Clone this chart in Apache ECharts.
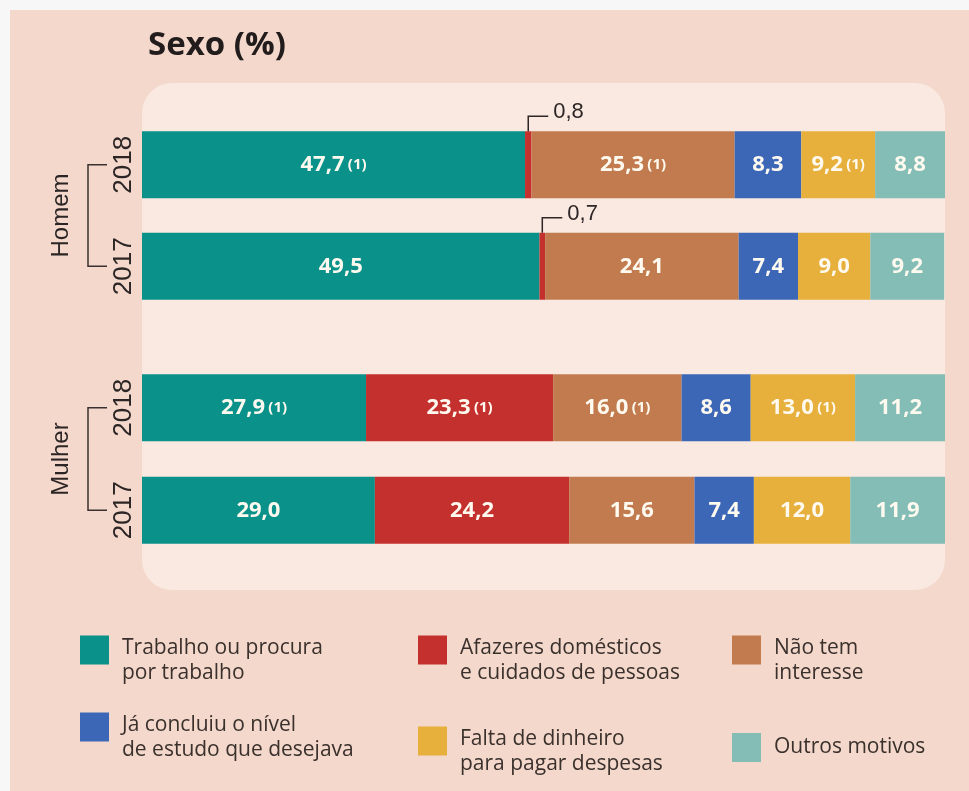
<!DOCTYPE html>
<html>
<head>
<meta charset="utf-8">
<script src="https://cdn.jsdelivr.net/npm/echarts@6/dist/echarts.min.js"></script>
<style>
html, body { margin: 0; padding: 0; background: #f7f7f7; }
#main { position: absolute; left: 10px; top: 10px; width: 959px; height: 781px; }
</style>
</head>
<body>
<div id="main"></div>
<script>
// dados
const years = ['2018', '2017'];
const groups = ['Homem', 'Mulher'];
const reasons = ['Trabalho', 'Afazeres', 'Interesse', 'Concluiu', 'Dinheiro', 'Outros'];
const legendText = [
  ['Trabalho ou procura', 'por trabalho'],
  ['Afazeres domésticos', 'e cuidados de pessoas'],
  ['Não tem', 'interesse'],
  ['Já concluiu o nível', 'de estudo que desejava'],
  ['Falta de dinheiro', 'para pagar despesas'],
  ['Outros motivos']
];
const homem2018 = [47.7, 0.8, 25.3, 8.3, 9.2, 8.8];
const homem2017 = [49.5, 0.7, 24.1, 7.4, 9.0, 9.2];
const mulher2018 = [27.9, 23.3, 16.0, 8.6, 13.0, 11.2];
const mulher2017 = [29.0, 24.2, 15.6, 7.4, 12.0, 11.9];
// (1) notas
const homem2018Nota = [1, 0, 1, 0, 1, 0];
const homem2017Nota = [0, 0, 0, 0, 0, 0];
const mulher2018Nota = [1, 1, 1, 0, 1, 0];
const mulher2017Nota = [0, 0, 0, 0, 0, 0];

const colors = ['#09918a', '#c4302d', '#c17b4e', '#3c66b6', '#e7af3c', '#83bdb5'];
const rows = [[homem2018, homem2017], [mulher2018, mulher2017]];
const notas = [[homem2018Nota, homem2017Nota], [mulher2018Nota, mulher2017Nota]];
const BAR_W = 67;

const fmt = v => v.toFixed(1).replace('.', ',');

let myChart = echarts.init(document.getElementById('main'));

let series = [];
let grids = [
  { left: 132, right: 24, top: 104, height: 203 },
  { left: 132, right: 24, top: 346.5, height: 205 }
];
let xAxes = [], yAxes = [];

grids.forEach((g, gi) => {
  xAxes.push({ gridIndex: gi, type: 'value', min: 0, max: 100, show: false });
  yAxes.push({
    gridIndex: gi,
    type: 'category',
    data: years,
    inverse: true,
    axisLine: { show: false },
    axisTick: { show: false },
    axisLabel: {
      rotate: 90, margin: 5, color: '#2b2525',
      fontFamily: '"Liberation Sans Narrow", "Liberation Sans"', fontSize: 26
    },
    name: groups[gi],
    nameLocation: 'middle',
    nameRotate: 90,
    nameGap: 69,
    nameTextStyle: { color: '#2b2525', fontFamily: 'Liberation Sans', fontSize: 24 }
  });

  reasons.forEach((r, ri) => {
    series.push({
      name: r,
      type: 'bar',
      stack: 'g' + gi,
      xAxisIndex: gi,
      yAxisIndex: gi,
      barWidth: BAR_W,
      itemStyle: { color: colors[ri] },
      data: rows[gi].map((row, yi) => ({
        value: row[ri],
        label: { show: row[ri] >= 2 }
      })),
      label: {
        show: true,
        position: 'inside',
        formatter: p => {
          const t = '{v|' + fmt(p.value) + '}';
          return notas[gi][p.dataIndex][ri] ? t + ' {n|(1)}' : t;
        },
        rich: {
          v: { color: '#fffaf0', fontFamily: 'Open Sans', fontWeight: 'bold', fontSize: 22 },
          n: { color: '#fffaf0', fontFamily: 'Open Sans', fontWeight: 'bold', fontSize: 15 }
        }
      }
    });
  });

  // chamada para valores pequenos
  let small = [];
  rows[gi].forEach((row, yi) => {
    if (row[1] < 2) small.push([row[0], row[1], yi]);
  });
  series.push({
    name: 'chamada',
    type: 'custom',
    xAxisIndex: gi,
    yAxisIndex: gi,
    encode: { x: 0, y: 2 },
    z: 5,
    data: small,
    renderItem: (params, api) => {
      const s = api.value(0), v = api.value(1), c = api.value(2);
      const p = api.coord([s + v / 2, c]);
      const top = p[1] - BAR_W / 2;
      const ly = top - 15;
      return {
        type: 'group',
        children: [
          { type: 'polyline', shape: { points: [[p[0], top], [p[0], ly], [p[0] + 20, ly]] },
            style: { stroke: '#2e2626', lineWidth: 1.5, fill: null } },
          { type: 'text', style: { x: p[0] + 25, y: ly - 4, text: fmt(v), fill: '#2e2626',
            fontFamily: 'Liberation Sans', fontSize: 22, verticalAlign: 'middle' } }
        ]
      };
    }
  });
});

const legendPos = [
  { left: 70, top: 610 }, { left: 408, top: 610 }, { left: 722, top: 610 },
  { left: 70, top: 687 }, { left: 408, top: 701 }, { left: 722, top: 723 }
];
let legends = reasons.map((r, ri) => ({
  data: [r],
  left: legendPos[ri].left,
  top: legendPos[ri].top,
  padding: 0,
  itemWidth: 29,
  itemHeight: 29,
  icon: 'rect',
  selectedMode: false,
  formatter: () => legendText[ri].length > 1
    ? '{e| }\n' + legendText[ri].map(t => '{a|' + t + '}').join('\n')
    : '{a|' + legendText[ri][0] + '}',
  textStyle: {
    padding: [0, 0, 0, 8],
    rich: {
      e: { fontSize: 10, lineHeight: 22 },
      a: { color: '#3a302c', fontFamily: 'Open Sans', fontSize: 21, lineHeight: 25 }
    }
  }
}));

let option = {
  backgroundColor: '#f3d8cb',
  animation: false,
  title: {
    text: 'Sexo (%)',
    left: 133,
    top: 14,
    textStyle: { fontFamily: 'Open Sans', fontWeight: 'bold', fontSize: 33, color: '#221c1c' }
  },
  graphic: [
    { type: 'rect', z: 0, silent: true, shape: { x: 132, y: 73, width: 803, height: 507, r: 30 },
      style: { fill: '#f9e9e1' } }
  ],
  grid: grids,
  xAxis: xAxes,
  yAxis: yAxes,
  legend: legends,
  series: series
};
myChart.setOption(option, true);

// colchetes dos grupos
let brackets = [];
groups.forEach((g, gi) => {
  const y1 = myChart.convertToPixel({ yAxisIndex: gi }, years[0]);
  const y2 = myChart.convertToPixel({ yAxisIndex: gi }, years[1]);
  const x0 = myChart.convertToPixel({ xAxisIndex: gi }, 0);
  brackets.push({
    type: 'polyline', silent: true, z: 10,
    shape: { points: [[x0 - 35, y1], [x0 - 54, y1], [x0 - 54, y2], [x0 - 35, y2]] },
    style: { stroke: '#3a3030', lineWidth: 1.5, fill: null }
  });
});
myChart.setOption({ graphic: option.graphic.concat(brackets) });
</script>
</body>
</html>
